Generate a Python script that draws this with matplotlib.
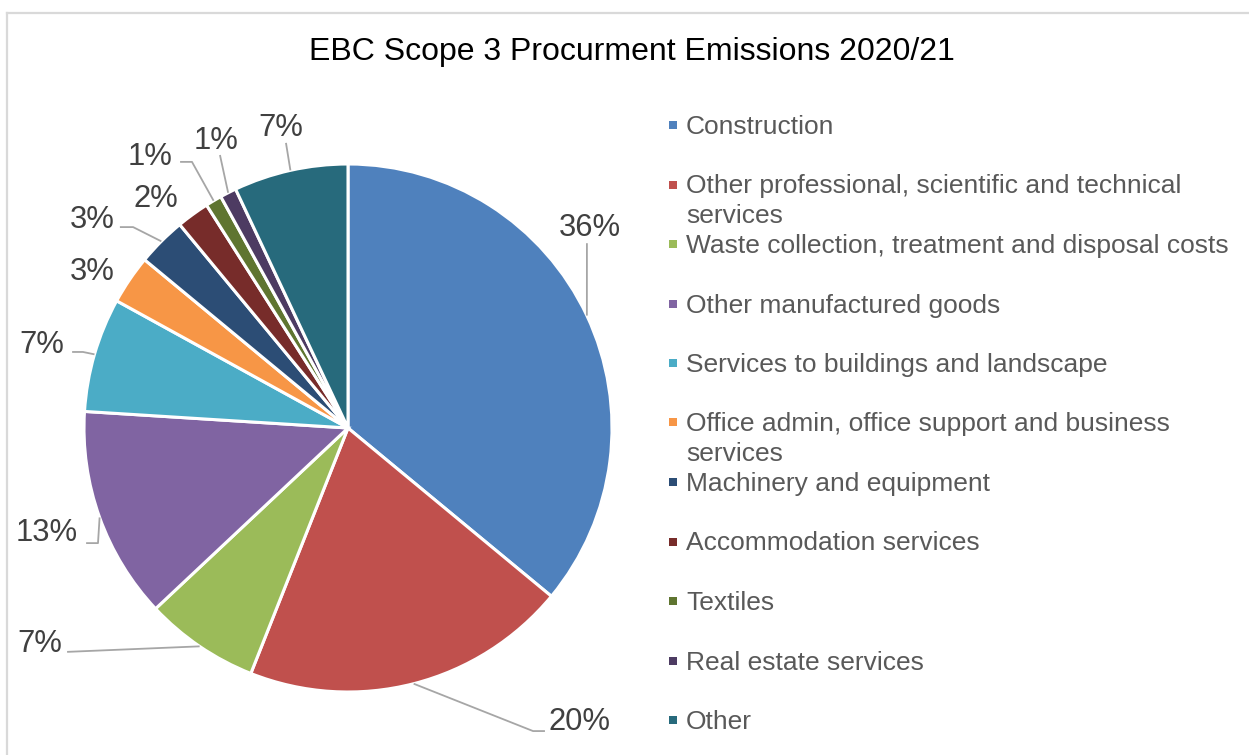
import matplotlib
matplotlib.use("Agg")
import matplotlib.pyplot as plt
import numpy as np
from matplotlib.patches import Rectangle
from matplotlib.lines import Line2D

plt.rcParams['font.family'] = ['Liberation Sans', 'DejaVu Sans']

W, H = 1249, 755

categories = [
    "Construction",
    "Other professional, scientific and technical\nservices",
    "Waste collection, treatment and disposal costs",
    "Other manufactured goods",
    "Services to buildings and landscape",
    "Office admin, office support and business\nservices",
    "Machinery and equipment",
    "Accommodation services",
    "Textiles",
    "Real estate services",
    "Other",
]
shares = [36, 20, 7, 13, 7, 3, 3, 2, 1, 1, 7]
colors = ["#4F81BD", "#C0504D", "#9BBB59", "#8064A2", "#4BACC6", "#F79646",
          "#2C4D75", "#772C2A", "#5F7530", "#4D3B62", "#276A7C"]

# label positions (pie radius units) and leader-line bends for each slice
label_pos = [(0.917, 0.757), (0.875, -1.114), (-1.167, -0.819), (-1.14, -0.398),
             (-1.159, 0.314), (-0.970, 0.590), (-0.970, 0.787), (-0.727, 0.867),
             (-0.750, 1.026), (-0.500, 1.087), (-0.254, 1.136)]
leader_bends = [
    [(0.905, 0.70)],
    [(0.701, -1.148), (0.746, -1.148)],
    [(-1.064, -0.848)],
    [(-0.947, -0.436), (-0.992, -0.436)],
    [(-1.004, 0.288), (-1.045, 0.288)],
    None,
    [(-0.814, 0.761), (-0.864, 0.761)],
    None,
    [(-0.591, 1.008), (-0.636, 1.008)],
    [(-0.485, 1.034)],
    [(-0.235, 1.08)],
]


def fig_xy(x, y):
    return x / W, 1 - y / H


fig = plt.figure(figsize=(W / 100, H / 100), dpi=100)

# chart frame (left and top edges visible)
fig.add_artist(Line2D([7 / W, 7 / W], [0, 1 - 13 / H], color="#d9d9d9", lw=1.6))
fig.add_artist(Line2D([7 / W, 1], [1 - 13 / H, 1 - 13 / H], color="#d9d9d9", lw=1.6))

cx, cy, r = 348, 428, 264
ax = fig.add_axes([(cx - r) / W, (H - cy - r) / H, 2 * r / W, 2 * r / H])
wedges, _ = ax.pie(shares, colors=colors, startangle=90, counterclock=False,
                   radius=1.0, wedgeprops=dict(edgecolor="white", linewidth=2.2))
ax.set_xlim(-1, 1)
ax.set_ylim(-1, 1)
ax.axis("off")

total = sum(shares)
cum = 0
for i, v in enumerate(shares):
    mid = 90 - (cum + v / 2) / total * 360
    cum += v
    sx, sy = np.cos(np.radians(mid)), np.sin(np.radians(mid))
    if leader_bends[i]:
        pts = [(sx, sy)] + leader_bends[i]
        ax.plot([p[0] for p in pts], [p[1] for p in pts], color="#a6a6a6",
                lw=1.3, clip_on=False, solid_capstyle="butt")
    lx, ly = label_pos[i]
    ax.text(lx, ly, f"{v:.0f}%", ha="center", va="center", fontsize=22.3,
            color="#404040", clip_on=False)

fig.text(*fig_xy(632, 52), "EBC Scope 3 Procurment Emissions 2020/21",
         ha="center", va="center", fontsize=23, color="black")

# legend
for i, (name, col) in enumerate(zip(categories, colors)):
    slot = 127 + i * 59.5
    fig.add_artist(Rectangle(fig_xy(669, slot + 2), 8 / W, 8 / H,
                             transform=fig.transFigure, color=col, lw=0))
    for k, line in enumerate(name.split("\n")):
        fig.text(*fig_xy(686, slot + k * 29.5), line, ha="left", va="center",
                 fontsize=19, color="#595959")

fig.savefig("out.png", dpi=100)
